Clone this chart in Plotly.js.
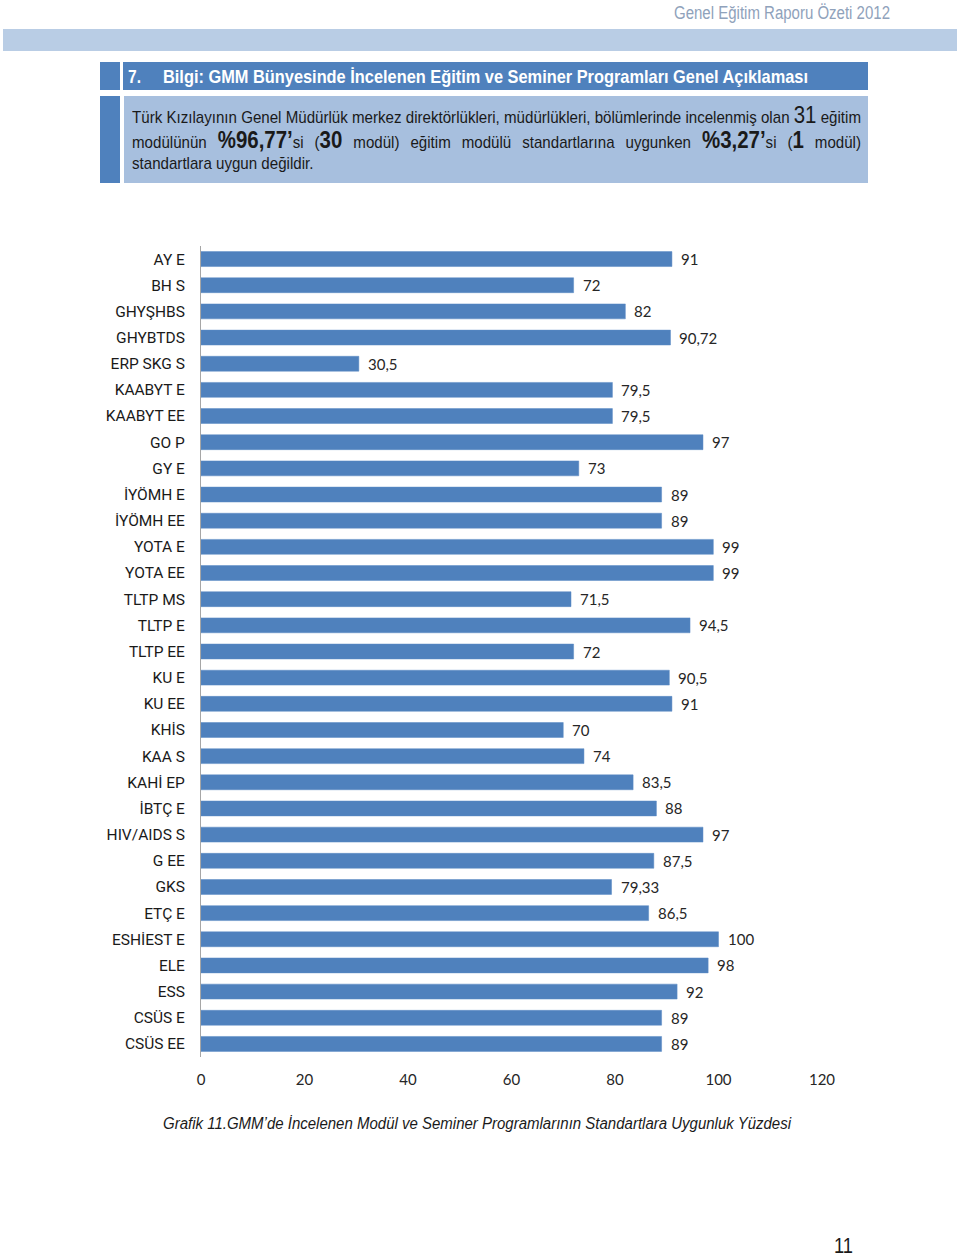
<!DOCTYPE html>
<html>
<head>
<meta charset="utf-8">
<script src="https://cdn.plot.ly/plotly-3.0.1.min.js"></script>
<style>
  html, body { margin:0; padding:0; background:#fff; }
  #page { position:relative; width:960px; height:1260px; overflow:hidden; }
  #chart { position:absolute; left:0; top:0; width:960px; height:1260px; }
  .blk { position:absolute; }
  .tx { position:absolute; white-space:nowrap; font-family:"Liberation Sans", Arial, sans-serif; transform-origin:0 50%; }
  #band { left:3px; top:29px; width:954px; height:22px; background:#b9cde5; }
  #tsq { left:100px; top:62px; width:20px; height:28px; background:#4f81bd; }
  #tbar { left:123px; top:62px; width:745px; height:28px; background:#4f81bd; }
  #bsq { left:100px; top:96px; width:20px; height:87px; background:#4f81bd; }
  #bbox { left:124px; top:96px; width:744px; height:87px; background:#a7bfde; }
  #hdr { left:674px; top:2px; font-size:18px; line-height:22px; color:#8fa2bb; }
  #t7 { left:128px; top:62px; font-size:18.5px; line-height:29px; color:#fff; font-weight:bold; }
  #tmain { left:163px; top:62px; font-size:18.5px; line-height:29px; color:#fff; font-weight:bold; }
  #btext { position:absolute; left:132px; top:103px; font-family:"Liberation Sans", Arial, sans-serif; font-size:17px; color:#1a1a1a; transform-origin:0 0; }
  .ln { white-space:nowrap; height:25px; line-height:25px; text-align:justify; text-align-last:justify; }
  .ln.last { text-align:left; text-align-last:left; height:22px; line-height:22px; }
  .big { font-size:23px; }
  .bb { font-size:23px; font-weight:bold; }
  #cap { left:163px; top:1113px; font-size:16px; line-height:22px; font-style:italic; color:#1a1a1a; }
  #pg { left:834px; top:1234px; font-size:22px; line-height:24px; color:#1a1a1a; }
</style>
</head>
<body>
<div id="page">
  <div id="chart"></div>
  <div class="blk" id="band"></div>
  <div class="blk" id="tsq"></div>
  <div class="blk" id="tbar"></div>
  <div class="blk" id="bsq"></div>
  <div class="blk" id="bbox"></div>
  <div class="tx" id="hdr" data-w="216">Genel Eğitim Raporu Özeti 2012</div>
  <div class="tx" id="t7" data-w="13">7.</div>
  <div class="tx" id="tmain" data-w="645">Bilgi: GMM Bünyesinde İncelenen Eğitim ve Seminer Programları Genel Açıklaması</div>
  <div id="btext">
    <div class="ln" id="l1"><span id="l1s">Türk Kızılayının Genel Müdürlük merkez direktörlükleri, müdürlükleri, bölümlerinde incelenmiş olan <span class="big">31</span> eğitim</span></div>
    <div class="ln">modülünün <span class="bb">%96,77’</span>si (<span class="bb">30</span> modül) eğitim modülü standartlarına uygunken <span class="bb">%3,27’</span>si (<span class="bb">1</span> modül)</div>
    <div class="ln last">standartlara uygun değildir.</div>
  </div>
  <div class="tx" id="cap" data-w="628"></div>
  <div class="tx" id="pg" data-w="19"></div>
</div>
<script>
const categories = ["AY E","BH S","GHYŞHBS","GHYBTDS","ERP SKG S","KAABYT E","KAABYT EE","GO P","GY E","İYÖMH E","İYÖMH EE","YOTA E","YOTA EE","TLTP MS","TLTP E","TLTP EE","KU E","KU EE","KHİS","KAA S","KAHİ EP","İBTÇ E","HIV/AIDS S","G EE","GKS","ETÇ E","ESHİEST E","ELE","ESS","CSÜS E","CSÜS EE"];
const values = [91,72,82,90.72,30.5,79.5,79.5,97,73,89,89,99,99,71.5,94.5,72,90.5,91,70,74,83.5,88,97,87.5,79.33,86.5,100,98,92,89,89];
const xTicks = [0,20,40,60,80,100,120];
const captionText = "Grafik 11.GMM’de İncelenen Modül ve Seminer Programlarının Standartlara Uygunluk Yüzdesi";
const pageNumber = "11";

document.getElementById('cap').textContent = captionText;
document.getElementById('pg').textContent = pageNumber;

// emulate narrow font by horizontal scaling to the measured widths
document.querySelectorAll('.tx[data-w]').forEach(el => {
  const w = el.getBoundingClientRect().width;
  const t = parseFloat(el.dataset.w);
  el.style.transform = 'scaleX(' + (t / w) + ')';
});
(function () {
  const target = 729;
  const natural = document.getElementById('l1s').getBoundingClientRect().width;
  const s = target / natural;
  const box = document.getElementById('btext');
  box.style.width = (target / s) + 'px';
  box.style.transform = 'scaleX(' + s + ')';
})();

const numFont = "Lato, 'Open Sans', sans-serif";

const labelAnnotations = values.map((v, i) => ({
  x: v, y: categories[i], xref: 'x', yref: 'y',
  text: String(v).replace('.', ','),
  showarrow: false, xanchor: 'left', yanchor: 'middle', xshift: 7,
  font: {family: numFont, size: 15, color: '#262626'}
}));

const trace = {
  type: 'bar', orientation: 'h',
  x: values, y: categories,
  marker: {color: '#4f81bd', line: {color: '#5b8ac4', width: 0.5}},
  hoverinfo: 'none'
};

const layout = {
  width: 960, height: 1260,
  margin: {l: 201, r: 138, t: 246, b: 203},
  paper_bgcolor: 'rgba(0,0,0,0)', plot_bgcolor: 'rgba(0,0,0,0)',
  showlegend: false,
  bargap: 0.43,
  xaxis: {
    range: [0, 120], tickvals: xTicks, ticktext: xTicks.map(String),
    showgrid: false, zeroline: false, showline: false, ticks: '',
    ticklabelstandoff: 12,
    tickfont: {family: numFont, size: 15, color: '#262626'}
  },
  yaxis: {
    type: 'category', categoryorder: 'array', categoryarray: categories,
    autorange: 'reversed', showgrid: false, zeroline: false,
    showline: true, linecolor: '#a6a6a6', linewidth: 1, ticks: '',
    ticklabelstandoff: 12,
    tickfont: {family: "Roboto, 'Liberation Sans', sans-serif", size: 15.5, color: '#1a1a1a'}
  },
  annotations: labelAnnotations
};

Plotly.newPlot('chart', [trace], layout, {displayModeBar: false, staticPlot: true});
</script>
</body>
</html>
